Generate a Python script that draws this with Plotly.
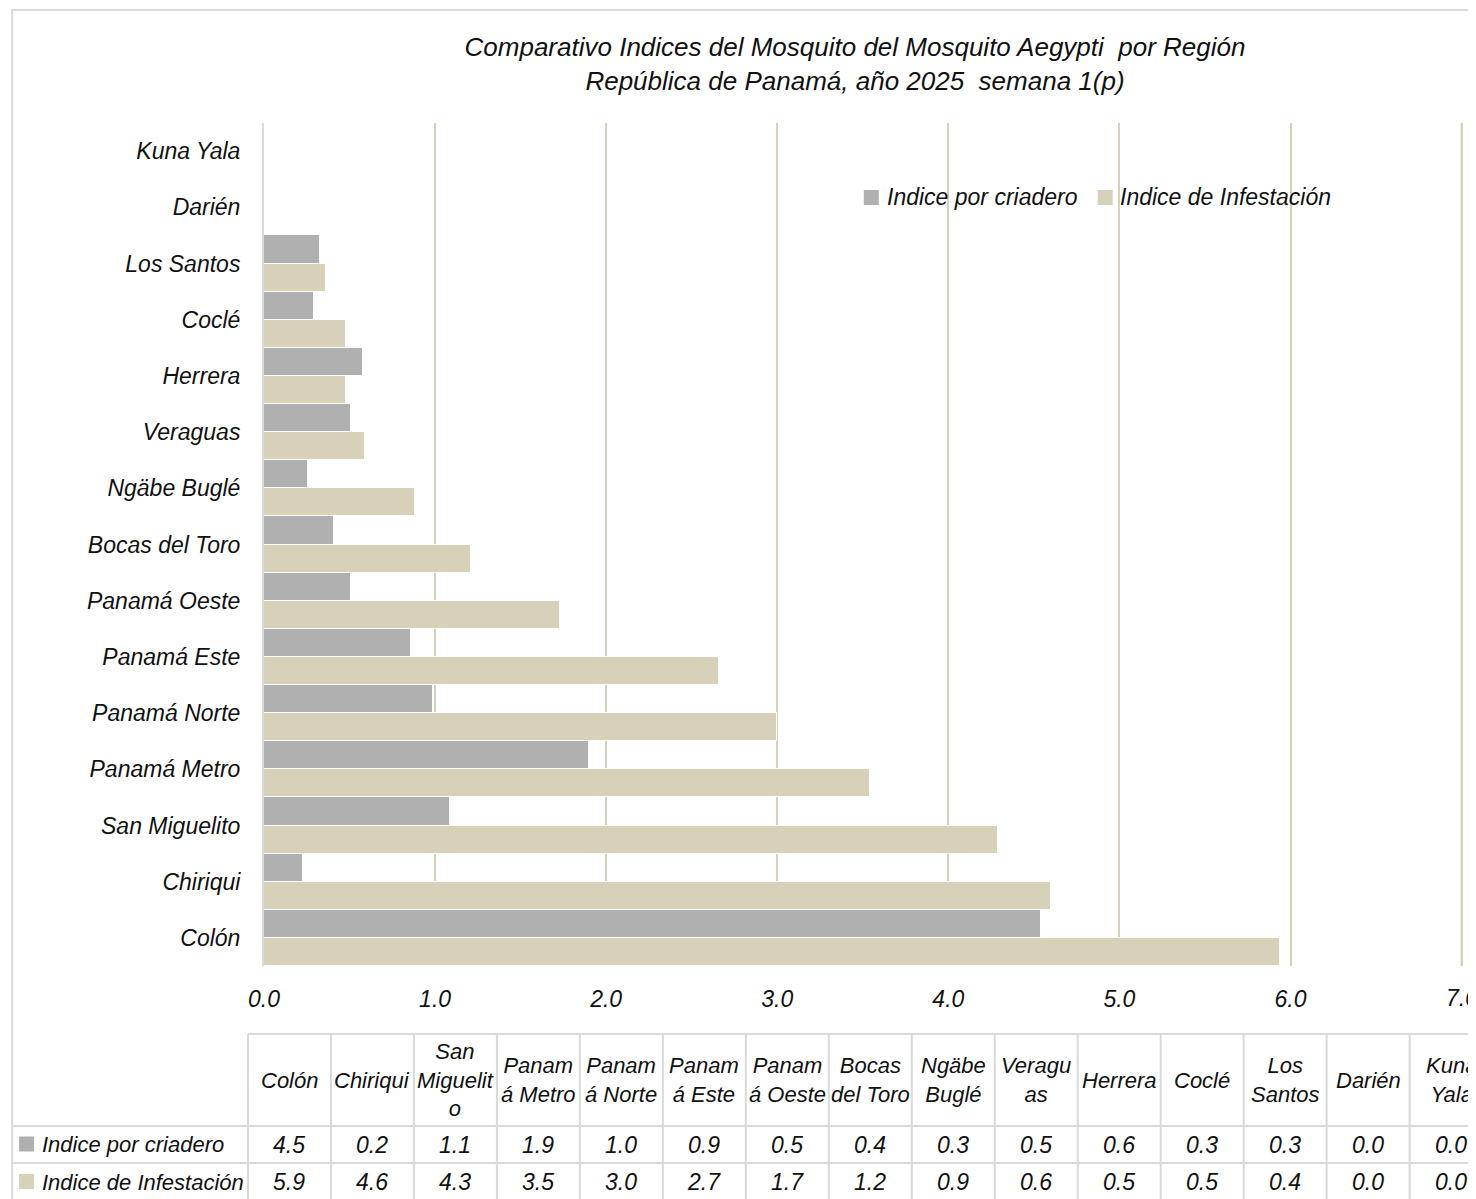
import plotly.graph_objects as go

regiones = ["Colón", "Chiriqui", "San Miguelito", "Panamá Metro", "Panamá Norte",
            "Panamá Este", "Panamá Oeste", "Bocas del Toro", "Ngäbe Buglé", "Veraguas",
            "Herrera", "Coclé", "Los Santos", "Darién", "Kuna Yala"]
encabezados_tabla = ["Colón", "Chiriqui", "San<br>Miguelit<br>o", "Panam<br>á Metro", "Panam<br>á Norte",
                     "Panam<br>á Este", "Panam<br>á Oeste", "Bocas<br>del Toro", "Ngäbe<br>Buglé", "Veragu<br>as",
                     "Herrera", "Coclé", "Los<br>Santos", "Darién", "Kuna<br>Yala"]
indice_criadero = [4.54, 0.23, 1.09, 1.90, 0.99, 0.86, 0.51, 0.41, 0.26, 0.51, 0.58, 0.29, 0.33, 0.0, 0.0]
indice_infestacion = [5.94, 4.60, 4.29, 3.54, 3.00, 2.66, 1.73, 1.21, 0.88, 0.59, 0.48, 0.48, 0.36, 0.0, 0.0]
x_ticks = [0, 1, 2, 3, 4, 5, 6, 7]
serie_nombres = ["Indice por criadero", "Indice de Infestación"]
titulo = ("Comparativo Indices del Mosquito del Mosquito Aegypti  por Región<br>"
          "República de Panamá, año 2025  semana 1(p)")

GRIS = "#b0b0b0"
BEIGE = "#d7d1b9"
LINEA = "#d9d9d9"
TXT = "#111111"
FONT = "Liberation Sans Narrow, Liberation Sans, Arial, sans-serif"

OFF = 8                      # browser body margin
W, H = 1476 - OFF, 1199 - OFF
XMAX = 7.02
L, T, B = 264 - OFF, 123 - OFF, 966 - OFF
R = L + (1462 - 264) * XMAX / 7.0


def px(x):
    return (x - OFF - L) / (R - L)


def py(y):
    return (B - (y - OFF)) / (B - T)


def f(size):
    return dict(size=size, family=FONT, color=TXT, style="italic")


fig = go.Figure()
# beige first so it sits in the lower half of each category band
fig.add_trace(go.Bar(y=regiones, x=indice_infestacion, orientation="h", name=serie_nombres[1],
                     marker=dict(color=BEIGE, line=dict(color="white", width=1)), showlegend=False))
fig.add_trace(go.Bar(y=regiones, x=indice_criadero, orientation="h", name=serie_nombres[0],
                     marker=dict(color=GRIS, line=dict(color="white", width=1)), showlegend=False))

shapes = []
annotations = []

# outer border
shapes.append(dict(type="rect", xref="paper", yref="paper", x0=px(12), x1=px(1500), y0=py(10), y1=py(1230),
                   line=dict(color=LINEA, width=2), fillcolor="rgba(0,0,0,0)", layer="below"))

# last gridline and its label (cut by the right edge of the picture like the original)
shapes.append(dict(type="line", xref="x", yref="paper", x0=x_ticks[-1], x1=x_ticks[-1], y0=0, y1=1,
                   line=dict(color=BEIGE, width=2), layer="below"))
annotations.append(dict(xref="x", yref="paper", x=x_ticks[-1], y=py(998), text=f"{x_ticks[-1]:.1f}",
                        showarrow=False, xanchor="center", yanchor="middle", font=f(23)))

# legend inside plot
leg = [(864, 885, GRIS, serie_nombres[0]), (1098, 1118, BEIGE, serie_nombres[1])]
for sx, tx, col, name in leg:
    shapes.append(dict(type="rect", xref="paper", yref="paper", x0=px(sx), x1=px(sx + 15),
                       y0=py(205), y1=py(190), fillcolor=col, line=dict(width=0), layer="above"))
    annotations.append(dict(xref="paper", yref="paper", x=px(tx), y=py(197), text=name, showarrow=False,
                            xanchor="left", yanchor="middle", font=f(23)))

# data table
col0 = 248
cw = 83
top_h, row1, row2, bot = 1034, 1126, 1163, 1215
ncol = len(regiones)
right_edge = col0 + cw * ncol
shapes.append(dict(type="line", xref="paper", yref="paper", x0=px(col0), x1=px(right_edge), y0=py(top_h), y1=py(top_h),
                   line=dict(color=LINEA, width=2)))
for yy in (row1, row2):
    shapes.append(dict(type="line", xref="paper", yref="paper", x0=px(12), x1=px(right_edge), y0=py(yy), y1=py(yy),
                       line=dict(color=LINEA, width=2)))
for k in range(ncol + 1):
    xx = col0 + cw * k
    shapes.append(dict(type="line", xref="paper", yref="paper", x0=px(xx), x1=px(xx), y0=py(top_h), y1=py(bot),
                       line=dict(color=LINEA, width=2)))

yc_h = (top_h + row1) / 2
yc_1 = (row1 + row2) / 2
yc_2 = 1182
for k in range(ncol):
    cx = col0 + cw * k + cw / 2
    annotations.append(dict(xref="paper", yref="paper", x=px(cx), y=py(yc_h), text=encabezados_tabla[k],
                            showarrow=False, xanchor="center", yanchor="middle", font=f(22)))
    annotations.append(dict(xref="paper", yref="paper", x=px(cx), y=py(yc_1), text=f"{indice_criadero[k]:.1f}",
                            showarrow=False, xanchor="center", yanchor="middle", font=f(23)))
    annotations.append(dict(xref="paper", yref="paper", x=px(cx), y=py(yc_2), text=f"{indice_infestacion[k]:.1f}",
                            showarrow=False, xanchor="center", yanchor="middle", font=f(23)))

for (yc, col, name) in [(yc_1, GRIS, serie_nombres[0]), (yc_2, BEIGE, serie_nombres[1])]:
    shapes.append(dict(type="rect", xref="paper", yref="paper", x0=px(19), x1=px(34), y0=py(yc + 7), y1=py(yc - 8),
                       fillcolor=col, line=dict(width=0)))
    annotations.append(dict(xref="paper", yref="paper", x=px(40), y=py(yc), text=name, showarrow=False,
                            xanchor="left", yanchor="middle", font=f(22)))

fig.update_layout(
    width=W, height=H,
    margin=dict(l=L, r=W - R, t=T, b=H - B, pad=0),
    paper_bgcolor="white", plot_bgcolor="white",
    barmode="group", bargap=0, bargroupgap=0,
    title=dict(text=titulo, xref="container", x=(855 - OFF) / W, xanchor="center",
               yref="container", y=1 - (56 - OFF) / H, yanchor="middle", font=f(26)),
    xaxis=dict(range=[0, XMAX], tickvals=x_ticks, tickformat=".1f", showgrid=True, gridcolor=BEIGE, gridwidth=2,
               zeroline=False, showline=False, ticks="", ticklabelstandoff=17, tickfont=f(23)),
    yaxis=dict(categoryorder="array", categoryarray=regiones, showgrid=False, zeroline=False,
               showline=True, linecolor=LINEA, linewidth=2, ticks="", ticklabelstandoff=17, tickfont=f(23)),
    shapes=shapes, annotations=annotations,
    font=dict(family=FONT),
)

fig.write_html("out.html")
